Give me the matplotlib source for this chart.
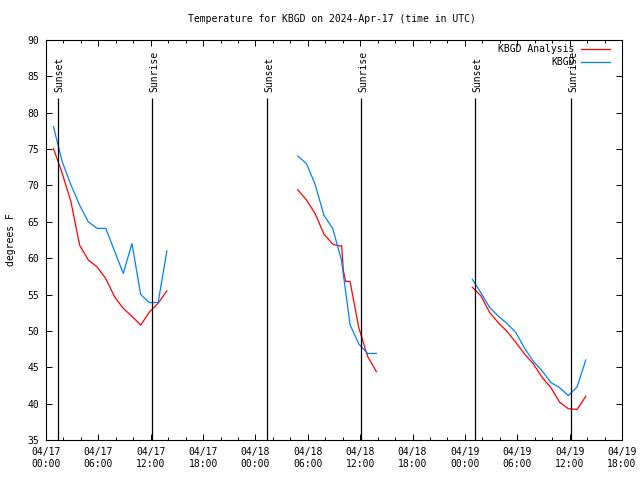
import numpy as np
import matplotlib
matplotlib.use('Agg')
from matplotlib import pyplot as plt
import matplotlib.dates as mdates
from datetime import datetime, timedelta

# hours after 2024-04-17 00:00 UTC
t0 = datetime(2024, 4, 17)

obs_hours_1 = [0.85, 1.85, 2.85, 3.85, 4.85, 5.85, 6.85, 7.85, 8.85, 9.85, 10.85, 11.85, 12.85, 13.85]
obs_temp_1 = [78.1, 73.3, 70.1, 67.3, 65.0, 64.1, 64.1, 61.0, 57.9, 62.0, 55.0, 53.9, 53.9, 61.0]
ana_temp_1 = [75.1, 71.7, 67.8, 61.8, 59.75, 58.8, 57.2, 54.7, 53.1, 52.0, 50.8, 52.6, 53.8, 55.5]

obs_hours_2 = [28.85, 29.85, 30.85, 31.85, 32.85, 33.85, 34.85, 35.85, 36.85, 37.85]
obs_temp_2 = [74.05, 73.0, 70.1, 65.9, 64.1, 59.75, 50.8, 48.2, 46.9, 46.9]
ana_hours_2 = [28.85, 29.85, 30.85, 31.85, 32.85, 33.5, 33.88, 34.07, 34.34, 34.84, 35.85, 36.85, 37.85]
ana_temp_2 = [69.4, 68.0, 66.1, 63.3, 61.95, 61.7, 61.7, 58.3, 56.8, 56.8, 50.4, 46.5, 44.4]

obs_hours_3 = [48.85, 49.85, 50.85, 51.85, 52.85, 53.85, 54.85, 55.85, 56.85, 57.85, 58.85, 59.85, 60.85, 61.85]
obs_temp_3 = [57.1, 55.2, 53.2, 52.0, 51.0, 49.75, 47.6, 45.8, 44.5, 42.9, 42.2, 41.1, 42.3, 46.0]
ana_temp_3 = [56.0, 54.8, 52.5, 51.1, 49.9, 48.4, 46.8, 45.45, 43.6, 42.2, 40.2, 39.3, 39.2, 41.0]

sun_hours = [1.32, 12.15, 25.3, 36.1, 49.2, 60.2]
sun_labels = ['Sunset', 'Sunrise', 'Sunset', 'Sunrise', 'Sunset', 'Sunrise']


def to_dt(hours):
    return [t0 + timedelta(hours=h) for h in hours]


plt.rcParams['font.family'] = 'DejaVu Sans Mono'
plt.rcParams['font.size'] = 7

fig = plt.figure(figsize=(6.4, 4.8), dpi=100)
ax = fig.add_axes([46 / 640, 40 / 480, 576 / 640, 400 / 480])

red = '#ff0000'
blue = '#0080ff'

for hrs, temps in [(obs_hours_1, ana_temp_1), (ana_hours_2, ana_temp_2), (obs_hours_3, ana_temp_3)]:
    ax.plot(to_dt(hrs), temps, color=red, lw=0.9)
for hrs, temps in [(obs_hours_1, obs_temp_1), (obs_hours_2, obs_temp_2), (obs_hours_3, obs_temp_3)]:
    ax.plot(to_dt(hrs), temps, color=blue, lw=0.9)

# sunrise / sunset markers
for h, lab in zip(sun_hours, sun_labels):
    x = t0 + timedelta(hours=h)
    ax.vlines(x, 35, 82.0, color='black', lw=0.9)
    ax.text(mdates.date2num(x) + 0.01, 82.9, lab, rotation=90, ha='center', va='bottom')

ax.set_xlim(t0, t0 + timedelta(hours=66))
ax.set_ylim(35, 90)
ax.set_yticks(np.arange(35, 91, 5))
ax.xaxis.set_major_locator(mdates.HourLocator(byhour=[0, 6, 12, 18]))
ax.xaxis.set_minor_locator(mdates.HourLocator(byhour=range(0, 24, 2)))
ax.xaxis.set_major_formatter(mdates.DateFormatter('%m/%d\n%H:%M'))
ax.tick_params(which='both', direction='in', top=True, right=True, width=0.7)
ax.tick_params(which='major', length=4, pad=5)
ax.tick_params(which='minor', length=2)
for s in ax.spines.values():
    s.set_linewidth(0.8)

# legend, gnuplot style
ax.text(0.918, 0.9775, 'KBGD Analysis', transform=ax.transAxes, ha='right', va='center')
ax.plot([0.929, 0.979], [0.9775, 0.9775], color=red, lw=0.9, transform=ax.transAxes)
ax.text(0.918, 0.945, 'KBGD', transform=ax.transAxes, ha='right', va='center')
ax.plot([0.929, 0.979], [0.945, 0.945], color=blue, lw=0.9, transform=ax.transAxes)

ax.set_ylabel('degrees F', labelpad=8)
fig.text(332 / 640, 1 - 19 / 480, 'Temperature for KBGD on 2024-Apr-17 (time in UTC)',
         ha='center', va='center')

plt.savefig('out.png', dpi=100)
